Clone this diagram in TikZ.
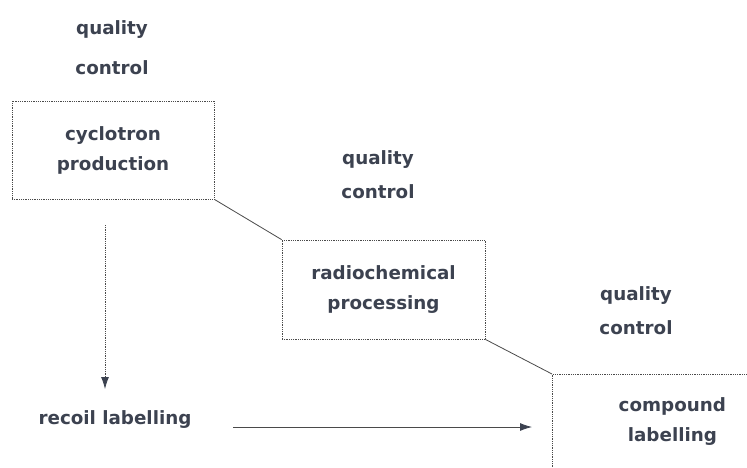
\documentclass[tikz,border=0pt]{standalone}
\usepackage{fontspec}
\setmainfont{DejaVu Sans}
\usetikzlibrary{arrows.meta}
\definecolor{ink}{HTML}{3C4250}
\definecolor{edge}{HTML}{4A4A4A}
\begin{document}
\begin{tikzpicture}[x=1pt,y=-1pt,
  lbl/.style={text=ink,font=\bfseries\fontsize{18.3}{18}\selectfont,inner sep=0pt},
  qc/.style={lbl,align=center,text height=13pt,text depth=4pt},
  stage/.style={draw=edge,densely dotted,line width=0.8pt,text=ink,font=\bfseries\fontsize{18.3}{30}\selectfont,align=center,inner sep=0pt},
  link/.style={draw=edge,line width=0.8pt},
  flow/.style={draw=edge,line width=0.8pt,-{Latex[length=12pt,width=8pt,color=ink]}}]
\useasboundingbox (0,0) rectangle (747,467);
\fill[white] (0,0) rectangle (747,467);
\clip (0,0) rectangle (747,467);
% quality control labels
\node[qc] (q1a) at (112,30) {quality};
\node[qc] (q1b) at (112,70) {control};
\node[qc] (q2a) at (378,160) {quality};
\node[qc] (q2b) at (378,194) {control};
\node[qc] (q3a) at (636,296) {quality};
\node[qc] (q3b) at (636,330) {control};
% stages
\node[stage,minimum width=202pt,minimum height=98pt] (cyc) at (113,150) {cyclotron\\production};
\node[stage,minimum width=203pt,minimum height=99pt] (rad) at (383.5,289.5) {radiochemical\\processing};
\node[stage,minimum width=240pt,minimum height=94pt,anchor=north west] (cmp) at (552,374) {compound\\labelling};
% connectors between stages
\draw[link] (cyc.south east) -- (rad.north west);
\draw[link] (rad.south east) -- (cmp.north west);
% recoil labelling
\node[lbl] (rec) at (115,420) {recoil labelling};
\coordinate (vstart) at (105,225);
\coordinate (vend) at (105,389);
\draw[flow,densely dotted] (vstart) -- (vend);
\coordinate (hstart) at (233,427);
\coordinate (hend) at (532,427);
\draw[flow] (hstart) -- (hend);
\end{tikzpicture}
\end{document}
